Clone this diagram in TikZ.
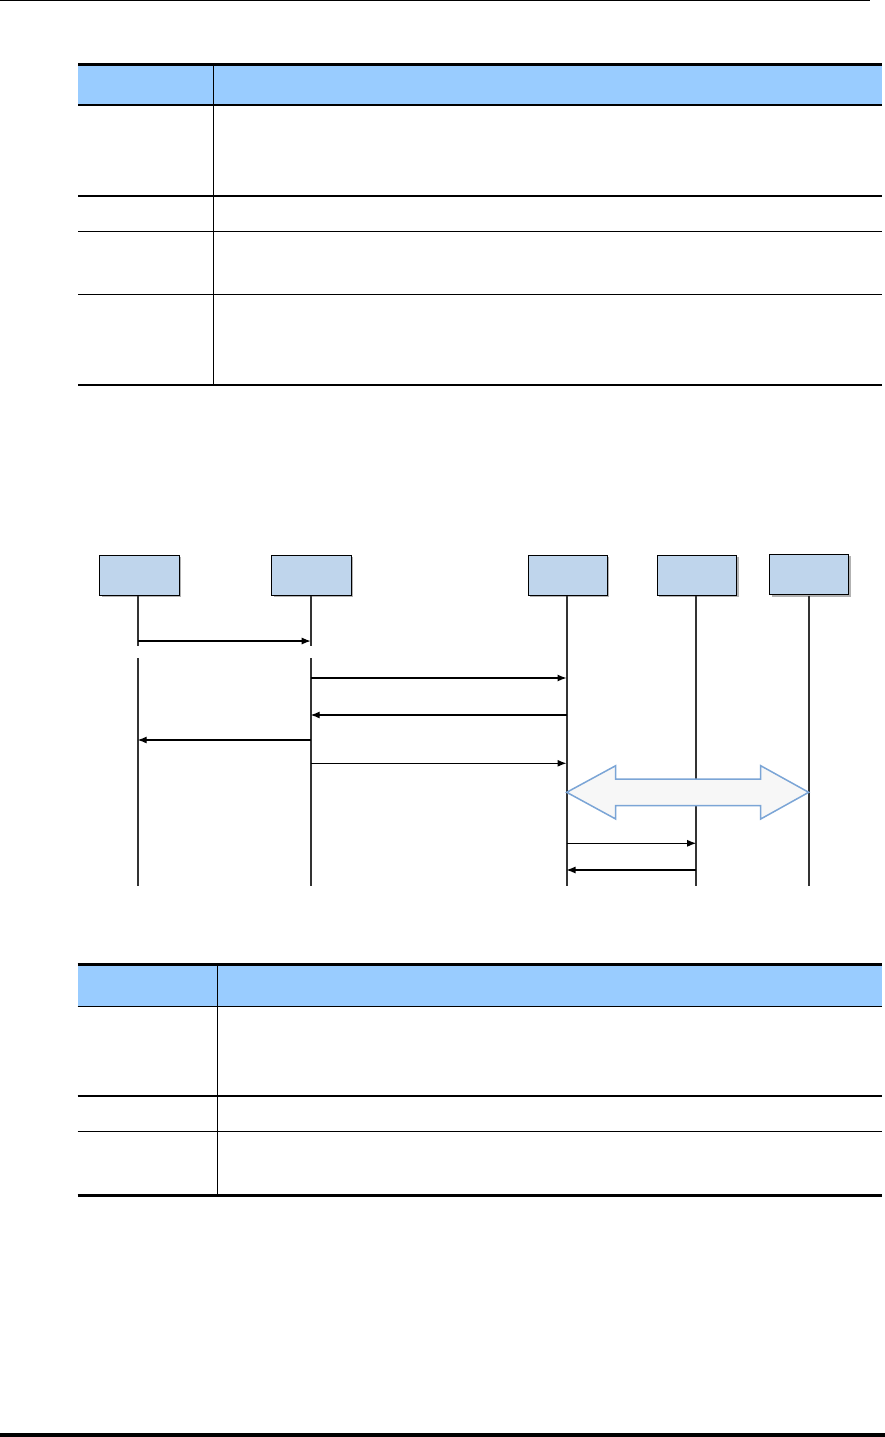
\documentclass[tikz,border=0pt]{standalone}
\usetikzlibrary{arrows.meta,shadows}
\definecolor{hdr}{HTML}{99CCFF}
\definecolor{boxfill}{HTML}{BFD5EC}
\definecolor{dblstroke}{HTML}{7BA5D6}
\definecolor{dblfill}{HTML}{F7F7F7}
\definecolor{life}{HTML}{333333}
\begin{document}
\begin{tikzpicture}[x=1pt,y=-1pt,
  thinrule/.style={line width=1.3pt,black},
  thickrule/.style={line width=3pt,black},
  actor/.style={draw=black,line width=1pt,fill=boxfill,minimum width=79.3pt,minimum height=40.3pt,inner sep=0pt,outer sep=0pt,
    drop shadow={shadow xshift=2pt,shadow yshift=-2pt,fill=black!30,opacity=1}},
  lifeline/.style={draw=life,line width=2pt},
  msg/.style={draw=black,line width=1.1pt,-{Latex[length=9pt,width=7pt]}},
  dbl/.style={draw=dblstroke,line width=1.5pt,fill=dblfill,line join=miter}]
\useasboundingbox (0,0) rectangle (885,1437);
\fill[white] (0,0) rectangle (885,1437);
% page rules
\draw[line width=1pt] (0,1) -- (870,1);
\draw[line width=3.5pt] (0,1435) -- (885,1435);

% ---- table 1 ----
\fill[hdr] (78,65.5) rectangle (882,104.5);
\draw[thickrule] (78,64.5) -- (882,64.5);
\draw[thinrule] (78,105) -- (882,105);
\draw[thinrule] (78,196) -- (882,196);
\draw[thinrule] (78,231.3) -- (882,231.3);
\draw[thinrule] (78,294.3) -- (882,294.3);
\draw[thinrule] (78,385) -- (882,385);
\draw[thinrule] (213.3,66) -- (213.3,385);

% ---- sequence diagram ----
\node[actor] (a1) at (139.6,575.2) {};
\node[actor] (a2) at (311.5,575.2) {};
\node[actor] (a3) at (567.8,575.2) {};
\node[actor] (a4) at (697,575.2) {};
\node[actor] (a5) at (809.3,574.6) {};

\coordinate (l1) at (137.7,595.5);
\coordinate (l2) at (310.7,595.5);
\coordinate (l3) at (566.5,595.5);
\coordinate (l4) at (696.2,595.5);
\coordinate (l5) at (808.7,595.5);

\draw[lifeline] (l1) -- (l1 |- 0,646);
\draw[lifeline] (l1 |- 0,658) -- (l1 |- 0,886);
\draw[lifeline] (l2) -- (l2 |- 0,646);
\draw[lifeline] (l2 |- 0,658) -- (l2 |- 0,886);
\draw[lifeline] (l3) -- (l3 |- 0,886);
\draw[lifeline] (l4) -- (l4 |- 0,886);
\draw[lifeline] (l5) -- (l5 |- 0,886);

\draw[msg] (l1 |- 0,641) -- (l2 |- 0,641);
\draw[msg] (l2 |- 0,678) -- (l3 |- 0,678);
\draw[msg] (l3 |- 0,715) -- (l2 |- 0,715);
\draw[msg] (l2 |- 0,740) -- (l1 |- 0,740);
\draw[msg] (l2 |- 0,763.3) -- (l3 |- 0,763.3);
\draw[msg] (l3 |- 0,843.3) -- (l4 |- 0,843.3);
\draw[msg] (l4 |- 0,870) -- (l3 |- 0,870);

% double arrow
\draw[dbl] (566.7,792.3) -- (615.7,765.7) -- (615.7,779) -- (760.7,779) -- (760.7,765.7)
  -- (808.7,792.3) -- (760.7,819) -- (760.7,805.7) -- (615.7,805.7) -- (615.7,819) -- cycle;

% ---- table 2 ----
\fill[hdr] (77.5,966) rectangle (882,1005.5);
\draw[thickrule] (77.5,964.5) -- (882,964.5);
\draw[thinrule] (77.5,1006.3) -- (882,1006.3);
\draw[thinrule] (77.5,1096) -- (882,1096);
\draw[thinrule] (77.5,1131.3) -- (882,1131.3);
\draw[thickrule] (77.5,1195) -- (882,1195);
\draw[thinrule] (217.3,966) -- (217.3,1195);
\end{tikzpicture}
\end{document}
